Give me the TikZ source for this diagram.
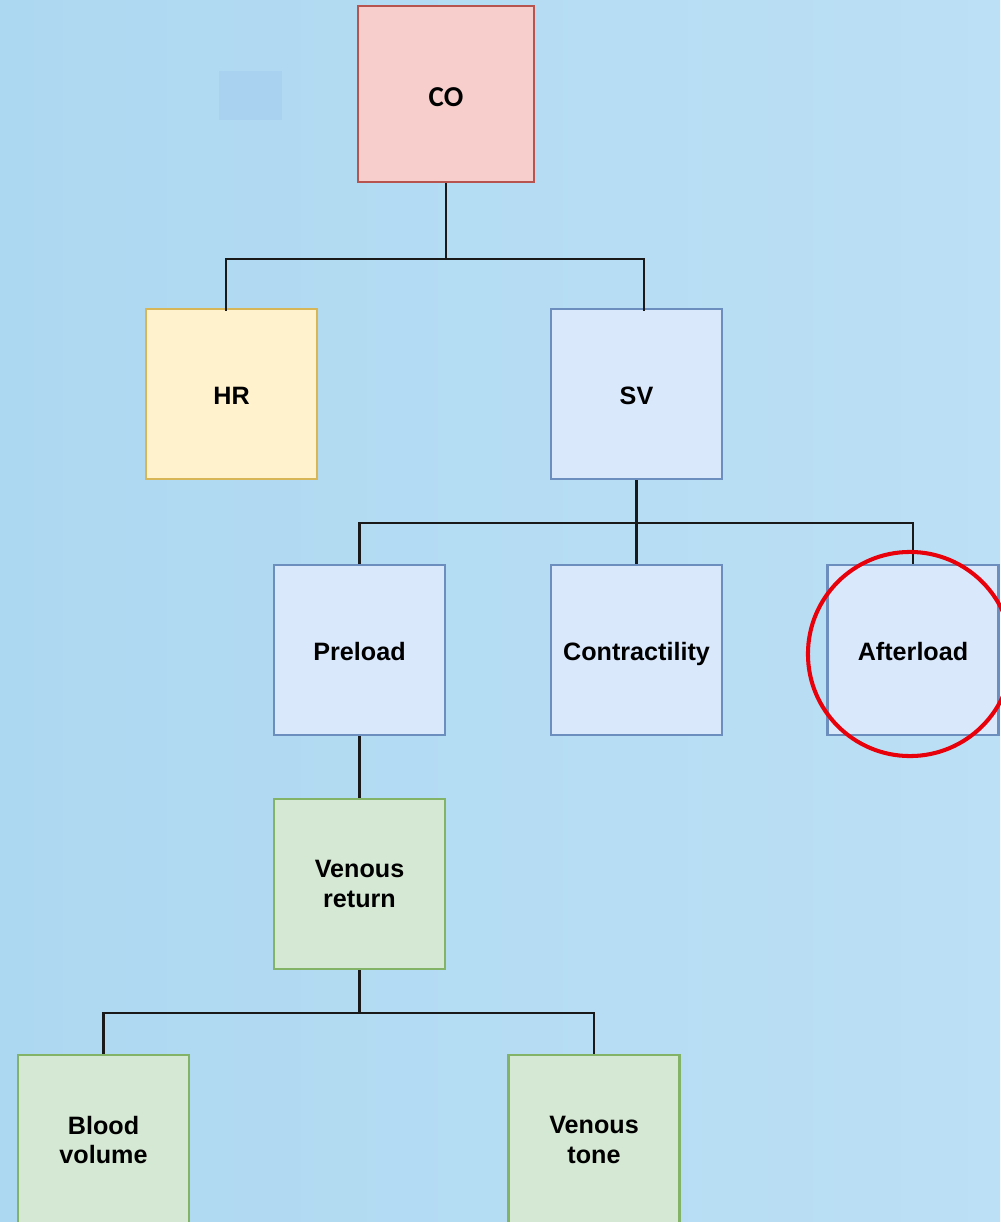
\documentclass[tikz,border=0pt]{standalone}
\usepackage{fontspec}
\setmainfont{Liberation Sans}
\newfontfamily\cofont{Carlito}
\usetikzlibrary{calc}
\definecolor{bgL}{HTML}{ADD8F1}
\definecolor{bgR}{HTML}{BCE0F5}
\definecolor{patch}{HTML}{A9D2F1}
\definecolor{redF}{HTML}{F8CECC}\definecolor{redD}{HTML}{B85450}
\definecolor{yelF}{HTML}{FFF2CC}\definecolor{yelD}{HTML}{D6B656}
\definecolor{bluF}{HTML}{DAE8FC}\definecolor{bluD}{HTML}{6C8EBF}
\definecolor{grnF}{HTML}{D5E8D4}\definecolor{grnD}{HTML}{82B366}
\definecolor{ring}{HTML}{E8000B}
\tikzset{
  box/.style={draw, line width=0.65pt, minimum width=1.71cm, minimum height=1.70cm,
    inner sep=0pt, align=center, font=\fontsize{7.15}{8.5}\selectfont\bfseries},
  oneline/.style={text height=6.2pt, text depth=0pt},
  redbox/.style={box, fill=redF, draw=redD, minimum width=1.76cm, minimum height=1.76cm,
    font=\cofont\fontsize{8.2}{9.8}\selectfont\bfseries},
  yelbox/.style={box, fill=yelF, draw=yelD},
  blubox/.style={box, fill=bluF, draw=bluD},
  grnbox/.style={box, fill=grnF, draw=grnD},
  conn/.style={draw=black!90, line width=0.6pt}
}
\begin{document}
\begin{tikzpicture}[x=0.01cm,y=-0.01cm]
\useasboundingbox (0,0) rectangle (1000,1222);
\shade[left color=bgL, right color=bgR] (0,0) rectangle (1000,1222);
\fill[patch] (219,71) rectangle (282,120);
\begin{scope}
\clip (0,0) rectangle (1000,1222);
\node[redbox, text height=7pt, text depth=0pt] (co) at (446,94) {CO};
\node[yelbox, oneline] (hr) at (231.5,394) {HR};
\node[blubox, oneline] (sv) at (636.5,394) {SV};
\node[blubox, oneline] (pre) at (359.5,650) {Preload};
\node[blubox, oneline] (con) at (636.5,650) {Contractility};
\node[blubox, oneline] (aft) at (913,650) {Afterload};
\node[grnbox] (vr) at (359.5,884) {Venous\\return};
\node[grnbox] (bv) at (103.5,1140) {Blood\\volume};
\node[grnbox] (vt) at (594,1140) {Venous\\tone};
\end{scope}
% connectors
\coordinate (j1) at ($(co.south)+(0,76)$);
\draw[conn] (co.south) -- (j1);
\draw[conn] (j1) -| ([xshift=-0.055cm,yshift=-0.03cm]hr.north);
\draw[conn] (j1) -| ([xshift=0.075cm,yshift=-0.03cm]sv.north);
\coordinate (j2) at ($(sv.south)+(0,43)$);
\draw[conn] (sv.south) -- (j2);
\draw[conn] (j2) -| (pre.north);
\draw[conn] (j2) -- (con.north);
\draw[conn] (j2) -| (aft.north);
\draw[conn] (pre.south) -- (vr.north);
\coordinate (j3) at ($(vr.south)+(0,43)$);
\draw[conn] (vr.south) -- (j3);
\draw[conn] (j3) -| (bv.north);
\draw[conn] (j3) -| (vt.north);
% red ring
\node[draw=ring, line width=1.15pt, circle, minimum size=2.04cm, inner sep=0pt] (ringc) at (910,654) {};
\end{tikzpicture}
\end{document}
